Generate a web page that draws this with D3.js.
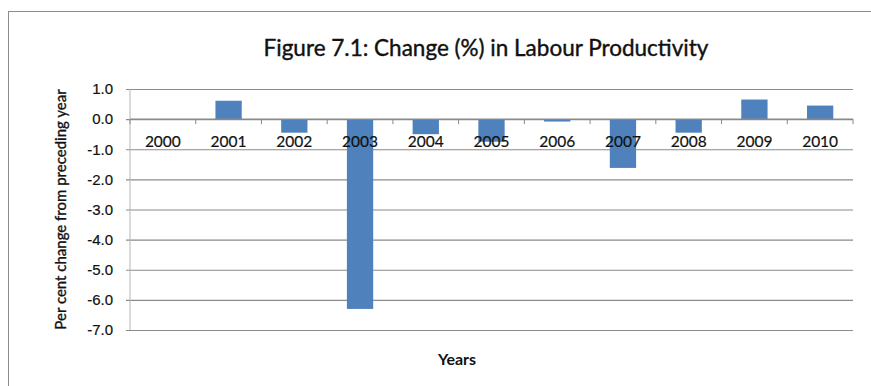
<!DOCTYPE html>
<html>
<head>
<meta charset="utf-8">
<script src="https://cdn.jsdelivr.net/npm/d3@7"></script>
<style>
  html, body { margin: 0; padding: 0; background: #fff; }
  svg { display: block; font-family: Lato, "Open Sans", sans-serif; }
</style>
</head>
<body>
<svg id="chart" width="871" height="386"></svg>
<script>
// Labour productivity, per cent change from preceding year
const years = ["2000", "2001", "2002", "2003", "2004", "2005", "2006", "2007", "2008", "2009", "2010"];
const changes = [0.0, 0.61, -0.45, -6.3, -0.5, -0.75, -0.08, -1.62, -0.45, 0.65, 0.45];
const yTicks = [1, 0, -1, -2, -3, -4, -5, -6, -7];

const titleText = "Figure 7.1: Change (%) in Labour Productivity";
const yTitle = "Per cent change from preceding year";
const xTitle = "Years";

// one decimal, plain hyphen for negatives
const fmt = d => d.toFixed(1);

const svg = d3.select("#chart");

// chart frame
svg.append("rect")
  .attr("x", 8.5).attr("y", 11.5)
  .attr("width", 880).attr("height", 400)
  .attr("fill", "#fff").attr("stroke", "#8c8c8c").attr("stroke-width", 1);

const plot = { left: 130, right: 853, top: 89, bottom: 330 };

const x = d3.scaleBand()
  .domain(years)
  .range([plot.left, plot.right])
  .paddingInner(0.6).paddingOuter(0.3);

const xCat = d3.scaleBand().domain(years).range([plot.left, plot.right]);

const y = d3.scaleLinear().domain([-7, 1]).range([plot.bottom, plot.top]);

// horizontal gridlines with tick labels
const yAxis = d3.axisLeft(y)
  .tickValues(yTicks)
  .tickFormat(fmt)
  .tickSize(0)
  .tickPadding(0);

const gy = svg.append("g")
  .attr("transform", `translate(${plot.left - 4},0)`)
  .call(yAxis);
gy.select(".domain").remove();
gy.selectAll(".tick line")
  .attr("stroke", "#8a8a8a").attr("stroke-width", 1.2)
  .attr("x1", 0)
  .attr("x2", plot.right - plot.left + 4);
gy.selectAll(".tick text")
  .attr("font-size", 15).attr("fill", "#111")
  .attr("stroke", "#111").attr("stroke-width", 0.2)
  .attr("x", -13);

// vertical axis line
svg.append("line")
  .attr("x1", plot.left).attr("x2", plot.left)
  .attr("y1", plot.top).attr("y2", plot.bottom)
  .attr("stroke", "#b5b5b5").attr("stroke-width", 1);

// bars
svg.append("g").selectAll("rect")
  .data(years.map((yr, i) => ({ yr, v: changes[i] })))
  .join("rect")
  .attr("x", d => x(d.yr))
  .attr("width", x.bandwidth())
  .attr("y", d => y(Math.max(0, d.v)))
  .attr("height", d => Math.abs(y(d.v) - y(0)))
  .attr("fill", "#4f81bd");

// category axis along zero
const gx = svg.append("g")
  .attr("transform", `translate(0,${y(0)})`);
gx.append("line")
  .attr("x1", plot.left).attr("x2", plot.right)
  .attr("stroke", "#8a8a8a").attr("stroke-width", 1.2);
gx.selectAll("line.cat-tick")
  .data(d3.range(years.length + 1))
  .join("line")
  .attr("class", "cat-tick")
  .attr("x1", i => plot.left + i * xCat.step())
  .attr("x2", i => plot.left + i * xCat.step())
  .attr("y1", 0).attr("y2", 5)
  .attr("stroke", "#8a8a8a");
gx.selectAll("text")
  .data(years)
  .join("text")
  .attr("x", d => xCat(d) + xCat.bandwidth() / 2)
  .attr("y", 28)
  .attr("text-anchor", "middle")
  .attr("font-size", 15.5)
  .attr("fill", "#111")
  .attr("stroke", "#111").attr("stroke-width", 0.2)
  .text(d => d);

// title
svg.append("text")
  .attr("x", 486).attr("y", 56)
  .attr("text-anchor", "middle")
  .attr("font-size", 22.5)
  .attr("fill", "#111")
  .attr("stroke", "#111").attr("stroke-width", 0.4)
  .text(titleText);

// axis titles
svg.append("text")
  .attr("transform", `translate(66,${(plot.top + plot.bottom) / 2}) rotate(-90)`)
  .attr("text-anchor", "middle")
  .attr("font-size", 15)
  .attr("fill", "#111")
  .attr("stroke", "#111").attr("stroke-width", 0.35)
  .text(yTitle);

svg.append("text")
  .attr("x", 457).attr("y", 365)
  .attr("text-anchor", "middle")
  .attr("font-size", 16)
  .attr("font-weight", 700)
  .attr("fill", "#111")
  .text(xTitle);
</script>
</body>
</html>
